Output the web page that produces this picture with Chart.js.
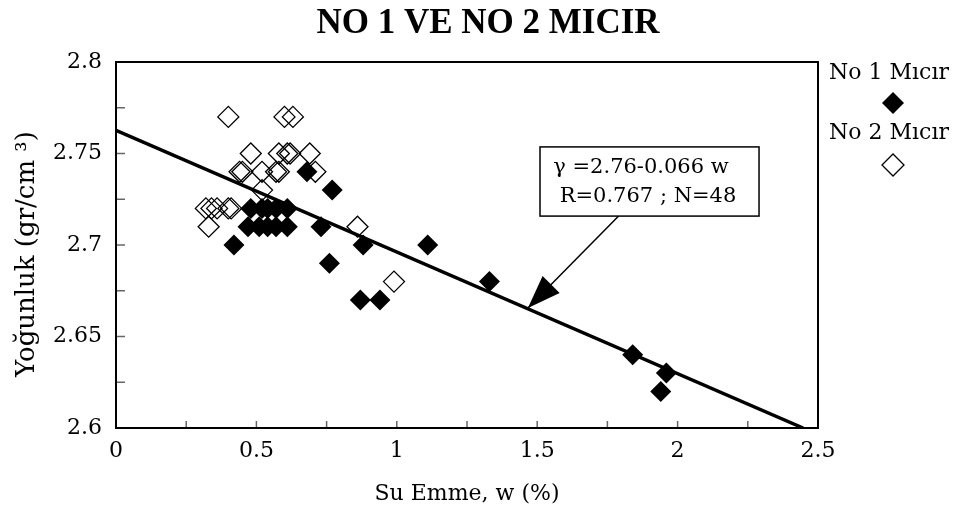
<!DOCTYPE html>
<html>
<head>
<meta charset="utf-8">
<script src="https://cdn.jsdelivr.net/npm/chart.js@4.4.1/dist/chart.umd.min.js"></script>
<style>
html, body { margin: 0; padding: 0; background: #fff; }
#wrap { width: 960px; height: 517px; }
</style>
</head>
<body>
<div id="wrap"><canvas id="chart" width="960" height="517"></canvas></div>
<script>
// No 1 Micir (filled diamonds)
var no1Water   = [0.68, 0.77, 0.48, 0.52, 0.54, 0.57, 0.61, 0.47, 0.51, 0.54, 0.57, 0.61, 0.73, 0.42, 0.88, 1.11, 0.76, 0.87, 0.94, 1.33, 1.84, 1.96, 1.94];
var no1Density = [2.74, 2.73, 2.72, 2.72, 2.72, 2.72, 2.72, 2.71, 2.71, 2.71, 2.71, 2.71, 2.71, 2.70, 2.70, 2.70, 2.69, 2.67, 2.67, 2.68, 2.64, 2.63, 2.62];

// No 2 Micir (open diamonds)
var no2Water   = [0.40, 0.60, 0.63, 0.48, 0.58, 0.61, 0.62, 0.69, 0.44, 0.45, 0.52, 0.57, 0.58, 0.71, 0.52, 0.32, 0.34, 0.36, 0.40, 0.41, 0.33, 0.86, 0.99];
var no2Density = [2.77, 2.77, 2.77, 2.75, 2.75, 2.75, 2.75, 2.75, 2.74, 2.74, 2.74, 2.74, 2.74, 2.74, 2.73, 2.72, 2.72, 2.72, 2.72, 2.72, 2.71, 2.71, 2.68];

// regression line  y = 2.76 - 0.066 w
var fitWater   = [0, 2.447];
var fitDensity = [2.7627, 2.6];

var xTickLabels = ['0', '0.5', '1', '1.5', '2', '2.5'];
var yTickLabels = ['2.6', '2.65', '2.7', '2.75', '2.8'];

var chartTitle = 'NO 1 VE NO 2 MICIR';
var yTitle = 'Yoğunluk (gr/cm ³)';
var seriesNames = ['No 1 Mıcır', 'No 2 Mıcır'];
var noteLines = ['γ =2.76-0.066 w', 'R=0.767 ; N=48'];

var serif = '"DejaVu Serif", serif';

function toPoints(xs, ys) {
    var pts = [];
    for (var i = 0; i < xs.length; i++) pts.push({x: xs[i], y: ys[i]});
    return pts;
}

function tickLabel(list) {
    return function (value) {
        var s = String(+value.toFixed(3));
        return list.indexOf(s) >= 0 ? s : '';
    };
}

function diamond(ctx, x, y, r, filled) {
    ctx.beginPath();
    ctx.moveTo(x - r, y);
    ctx.lineTo(x, y - r);
    ctx.lineTo(x + r, y);
    ctx.lineTo(x, y + r);
    ctx.closePath();
    if (filled) { ctx.fillStyle = '#000'; ctx.fill(); }
    else { ctx.strokeStyle = '#000'; ctx.lineWidth = 1.3; ctx.stroke(); }
}

var framePlugin = {
    id: 'frame',
    beforeDatasetsDraw: function (chart) {
        var ctx = chart.ctx, a = chart.chartArea;
        var xs = chart.scales.x, ys = chart.scales.y;
        ctx.save();
        ctx.strokeStyle = '#666';
        ctx.lineWidth = 1.5;
        ys.ticks.forEach(function (t) {
            var py = ys.getPixelForValue(t.value);
            ctx.beginPath(); ctx.moveTo(a.left, py); ctx.lineTo(a.left + 9, py); ctx.stroke();
        });
        xs.ticks.forEach(function (t) {
            var px = xs.getPixelForValue(t.value);
            ctx.beginPath(); ctx.moveTo(px, a.bottom); ctx.lineTo(px, a.bottom - 7); ctx.stroke();
        });
        ctx.strokeStyle = '#000';
        ctx.lineWidth = 2;
        ctx.strokeRect(a.left, a.top, a.right - a.left, a.bottom - a.top);
        ctx.restore();
    },
    afterDraw: function (chart) {
        var ctx = chart.ctx;
        var xs = chart.scales.x, ys = chart.scales.y;
        ctx.save();
        // title
        ctx.fillStyle = '#000';
        ctx.textAlign = 'center';
        ctx.textBaseline = 'middle';
        ctx.font = 'bold 35px "Liberation Serif", serif';
        ctx.fillText(chartTitle, 488, 24);

        // y axis title
        ctx.save();
        ctx.translate(27, 254);
        ctx.rotate(-Math.PI / 2);
        ctx.font = '26px ' + serif;
        ctx.fillText(yTitle, 0, 0);
        ctx.restore();

        // legend
        var lx = 889;
        ctx.font = '22px ' + serif;
        ctx.fillText(seriesNames[0], lx, 73);
        diamond(ctx, 893, 103, 11, true);
        ctx.fillStyle = '#000';
        ctx.fillText(seriesNames[1], lx, 133);
        diamond(ctx, 893, 165, 11, false);

        // annotation box and arrow
        var bx0 = xs.getPixelForValue(1.51), bx1 = xs.getPixelForValue(2.29);
        var by0 = ys.getPixelForValue(2.7536), by1 = ys.getPixelForValue(2.7158);
        var tx = xs.getPixelForValue(1.79), ty = by1;
        var hx = xs.getPixelForValue(1.467), hy = ys.getPixelForValue(2.6656);
        ctx.strokeStyle = '#000';
        ctx.lineWidth = 1.5;
        ctx.beginPath(); ctx.moveTo(tx, ty); ctx.lineTo(hx, hy); ctx.stroke();
        var ang = Math.atan2(hy - ty, hx - tx);
        var len = 33, half = 12;
        var bxm = hx - Math.cos(ang) * len, bym = hy - Math.sin(ang) * len;
        ctx.beginPath();
        ctx.moveTo(hx, hy);
        ctx.lineTo(bxm + Math.sin(ang) * half, bym - Math.cos(ang) * half);
        ctx.lineTo(bxm - Math.sin(ang) * half, bym + Math.cos(ang) * half);
        ctx.closePath();
        ctx.fillStyle = '#000';
        ctx.fill();

        ctx.fillStyle = '#fff';
        ctx.fillRect(bx0, by0, bx1 - bx0, by1 - by0);
        ctx.lineWidth = 1.5;
        ctx.strokeRect(bx0, by0, bx1 - bx0, by1 - by0);
        ctx.fillStyle = '#000';
        ctx.font = '21px ' + serif;
        ctx.fillText(noteLines[0], 641, by0 + 21);
        ctx.fillText(noteLines[1], 648, by0 + 50);
        ctx.restore();
    }
};

function renderChart(name) {
    Chart.defaults.font.family = serif;
    Chart.defaults.color = '#000';
    var ctx = document.getElementById(name).getContext('2d');
    var myChart = new Chart(ctx, {
        type: 'scatter',
        data: {
            datasets: [{
                label: seriesNames[0],
                data: toPoints(no1Water, no1Density),
                pointStyle: 'rectRot',
                pointRadius: 10.5,
                pointHoverRadius: 10.5,
                backgroundColor: '#000',
                borderColor: '#000',
                borderWidth: 0
            },
            {
                label: seriesNames[1],
                data: toPoints(no2Water, no2Density),
                pointStyle: 'rectRot',
                pointRadius: 10.5,
                pointHoverRadius: 10.5,
                backgroundColor: 'rgba(0,0,0,0)',
                borderColor: '#000',
                borderWidth: 1.3
            },
            {
                type: 'line',
                label: 'fit',
                data: toPoints(fitWater, fitDensity),
                borderColor: '#000',
                borderWidth: 3.5,
                pointRadius: 0,
                fill: false
            }]
        },
        options: {
            responsive: false,
            animation: false,
            devicePixelRatio: 1,
            layout: { padding: { top: 62, right: 142, bottom: 0, left: 0 } },
            plugins: {
                legend: { display: false },
                tooltip: { enabled: false },
                title: { display: false }
            },
            scales: {
                x: {
                    type: 'linear',
                    min: 0, max: 2.5,
                    grid: { display: false, drawTicks: false },
                    border: { display: false },
                    ticks: { stepSize: 0.25, padding: 10, font: { size: 22 }, callback: tickLabel(xTickLabels), maxRotation: 0, autoSkip: false },
                    title: { display: true, text: 'Su Emme, w (%)', font: { size: 22 }, padding: { top: 0, bottom: 10 } },
                    afterFit: function (s) { s.height = 89; }
                },
                y: {
                    min: 2.6, max: 2.8,
                    grid: { display: false, drawTicks: false },
                    border: { display: false },
                    ticks: { stepSize: 0.025, padding: 14, font: { size: 22 }, callback: tickLabel(yTickLabels), autoSkip: false },
                    title: { display: false },
                    afterFit: function (s) { s.width = 116; }
                }
            }
        },
        plugins: [framePlugin]
    });
}

renderChart("chart");
</script>
</body>
</html>
